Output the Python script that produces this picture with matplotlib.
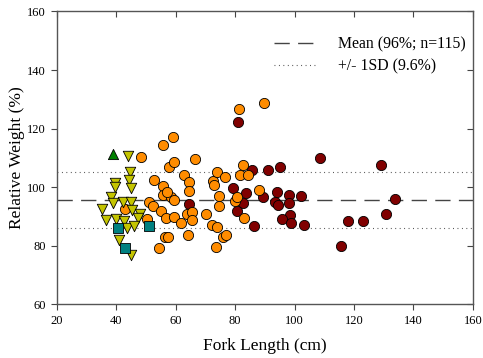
import matplotlib
matplotlib.use("Agg")
import matplotlib.pyplot as plt
from matplotlib.lines import Line2D

plt.rcParams['font.family'] = ['Liberation Serif', 'DejaVu Serif']

# Data (fork length cm, relative weight %)
green_x = [38.75]
green_y = [111.2]

yellow_x = [43.8, 44.7, 44.1, 45.0, 39.4, 39.5, 38.2, 38.9, 42.3, 45.0, 35.3,
            45.4, 47.9, 47.2, 36.5, 39.8, 42.4, 43.4, 45.8, 41.0, 44.8]
yellow_y = [110.6, 105.2, 102.4, 99.6, 101.4, 100.0, 96.8, 94.7, 95.0, 95.0, 92.6,
            92.2, 90.8, 89.4, 88.8, 89.0, 88.3, 86.1, 86.7, 81.9, 77.0]

teal_x = [40.4, 50.9, 42.9]
teal_y = [86.1, 86.8, 79.3]

orange_x = [48.2, 55.8, 59.0, 66.3, 57.6, 59.5, 62.6, 52.8, 55.6, 64.6, 64.6,
            55.6, 58.4, 59.5, 51.1, 52.4, 55.1, 56.8, 59.4, 61.6, 63.8, 65.3,
            65.5, 70.1, 64.2, 56.5, 57.5, 54.2, 42.9, 50.3, 72.5, 74.0, 72.9,
            76.6, 74.7, 74.7, 72.2, 74.0, 75.8, 76.9, 73.6, 81.3, 89.6, 82.6,
            81.5, 84.3, 79.9, 80.7, 88.0, 83.1, 57.2]
orange_y = [110.4, 114.4, 117.0, 109.5, 107.0, 108.5, 104.1, 102.4, 100.3, 101.8, 98.6,
            97.3, 96.6, 95.6, 95.1, 93.4, 91.8, 89.3, 89.9, 87.8, 90.9, 91.6,
            88.8, 90.7, 83.7, 83.1, 83.1, 79.1, 92.4, 89.1, 102.1, 105.3, 100.7,
            103.3, 97.0, 93.7, 87.1, 86.5, 83.0, 83.8, 79.6, 126.7, 128.6, 107.5,
            104.1, 104.0, 95.2, 96.7, 99.0, 89.4, 98.3]

darkred_x = [80.8, 64.6, 108.4, 129.0, 85.8, 91.2, 95.0, 79.4, 83.5, 89.3, 94.2,
             98.0, 102.2, 82.5, 80.7, 93.5, 94.4, 98.1, 98.4, 95.7, 98.9, 103.1,
             86.4, 115.6, 118.1, 123.1, 130.6, 133.7]
darkred_y = [122.1, 94.2, 110.0, 107.5, 105.8, 105.8, 106.9, 99.8, 97.9, 96.7, 98.4,
             97.3, 97.1, 94.6, 91.9, 94.9, 94.0, 94.5, 90.5, 89.1, 87.9, 87.1,
             86.7, 79.9, 88.5, 88.5, 91.0, 95.9]

mean_val = 95.5
sd_val = 9.6
x_ticks = [20, 40, 60, 80, 100, 120, 140, 160]
y_ticks = [60, 80, 100, 120, 140, 160]
legend_labels = ["Mean (96%; n=115)", "+/- 1SD (9.6%)"]

fig = plt.figure(figsize=(4.83, 3.58), dpi=100)
ax = fig.add_axes([0.118, 0.150, 0.861, 0.818])

ms = 54
ec = 'black'
lw = 0.6
ax.scatter(darkred_x, darkred_y, s=ms, c='#800000', edgecolors=ec, linewidths=lw, zorder=3)
ax.scatter(orange_x, orange_y, s=ms, c='#ff8c00', edgecolors=ec, linewidths=lw, zorder=4)
ax.scatter(yellow_x, yellow_y, s=ms * 1.05, marker='v', c='#c4c400', edgecolors=ec, linewidths=lw, zorder=5)
ax.scatter(teal_x, teal_y, s=ms * 0.85, marker='s', c='#008080', edgecolors=ec, linewidths=lw, zorder=6)
ax.scatter(green_x, green_y, s=ms, marker='^', c='#008000', edgecolors=ec, linewidths=lw, zorder=6)

line_col = '#444444'
ax.axhline(mean_val, color=line_col, lw=1.0, ls=(0, (11, 6)), zorder=2)
ax.axhline(mean_val + sd_val, color=line_col, lw=0.8, ls=(0, (0.8, 3.2)), zorder=2)
ax.axhline(mean_val - sd_val, color=line_col, lw=0.8, ls=(0, (0.8, 3.2)), zorder=2)

ax.set_xlim(20, 160)
ax.set_ylim(60, 160)
ax.set_xticks(x_ticks)
ax.set_yticks(y_ticks)
ax.tick_params(axis='both', labelsize=9, length=4, width=0.8, color='#444444', direction='out', pad=4)
ax.tick_params(top=True, right=True)
for t in ax.xaxis.get_major_ticks():
    t.tick2line.set_marker(3)  # inward on top
for t in ax.yaxis.get_major_ticks():
    t.tick2line.set_marker(0)  # inward on right
for sp in ax.spines.values():
    sp.set_color('#555555')
    sp.set_linewidth(1.0)

ax.set_xlabel("Fork Length (cm)", fontsize=12.5, labelpad=7.5)
ax.set_ylabel("Relative Weight (%)", fontsize=12.5, labelpad=1.5)

handles = [Line2D([], [], color=line_col, lw=1.0, ls=(0, (11, 6))),
           Line2D([], [], color=line_col, lw=0.8, ls=(0, (0.8, 3.2)))]
ax.legend(handles, legend_labels, loc='upper right', bbox_to_anchor=(0.983, 0.915),
          frameon=False, fontsize=11.3, handlelength=2.8, handletextpad=1.3,
          borderaxespad=0.0, borderpad=0.0, labelspacing=0.4)

fig.savefig("out.png", dpi=100)
